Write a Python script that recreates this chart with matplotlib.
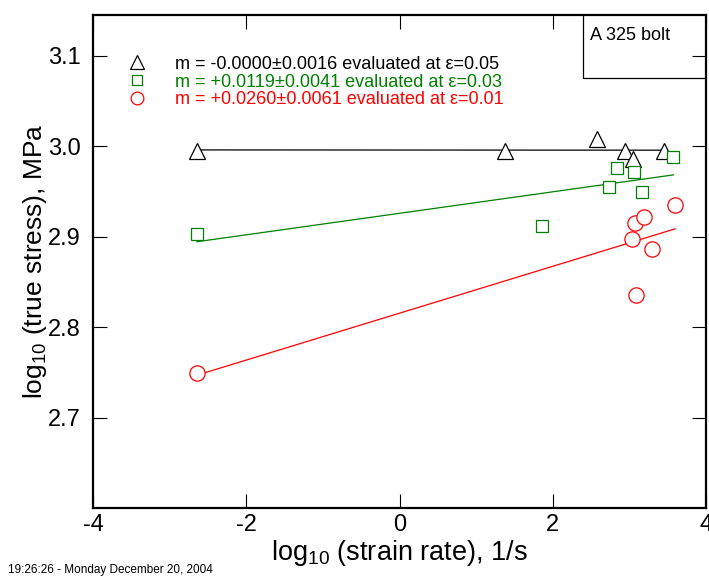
import numpy as np
import matplotlib
matplotlib.use('Agg')
import matplotlib.pyplot as plt
from matplotlib.patches import Rectangle

plt.rcParams['font.family'] = ['Liberation Sans', 'DejaVu Sans']
plt.rcParams['mathtext.fontset'] = 'custom'
plt.rcParams['mathtext.rm'] = 'Liberation Sans'
plt.rcParams['mathtext.default'] = 'regular'
plt.rcParams['axes.unicode_minus'] = False

# strain 0.05 (triangles)
x_tri = [-2.644, 1.372, 2.571, 2.949, 3.053, 3.458]
y_tri = [2.995, 2.995, 3.008, 2.995, 2.986, 2.995]
# strain 0.03 (squares)
x_sq = [-2.644, 1.858, 2.732, 2.840, 3.058, 3.171, 3.575]
y_sq = [2.903, 2.912, 2.955, 2.976, 2.971, 2.949, 2.988]
# strain 0.01 (circles)
x_ci = [-2.644, 3.032, 3.076, 3.089, 3.188, 3.300, 3.597]
y_ci = [2.749, 2.897, 2.915, 2.835, 2.922, 2.886, 2.935]

labels = ['m = -0.0000\u00b10.0016 evaluated at \u03b5=0.05',
          'm = +0.0119\u00b10.0041 evaluated at \u03b5=0.03',
          'm = +0.0260\u00b10.0061 evaluated at \u03b5=0.01']
colors = ['black', '#008000', '#ff0000']
markers = ['^', 's', 'o']
msizes = [12, 8, 11]

xticks = [-4, -2, 0, 2, 4]
yticks = [2.7, 2.8, 2.9, 3.0, 3.1]

fig = plt.figure(figsize=(7.09, 5.8), dpi=100)
ax = fig.add_axes([0.1312, 0.1241, 0.8646, 0.85])

series = [(x_tri, y_tri), (x_sq, y_sq), (x_ci, y_ci)]
handles = []
for (xs, ys), c, mk, ms, lab in zip(series, colors, markers, msizes, labels):
    xs = np.array(xs)
    ys = np.array(ys)
    m, b = np.polyfit(xs, ys, 1)
    xl = np.array([xs.min(), xs.max()])
    ax.plot(xl, m * xl + b, color=c, lw=0.9, zorder=2)
    h, = ax.plot(xs, ys, ls='none', marker=mk, ms=ms, mfc='white', mec=c,
                 mew=0.9, zorder=3, label=lab)
    handles.append(h)

leg = ax.legend(handles=handles, loc='upper left', bbox_to_anchor=(0.037, 0.936),
                frameon=False, fontsize=13, markerscale=0.83, handlelength=1.4,
                handletextpad=1.4, labelspacing=0.05, borderpad=0,
                labelcolor='markeredgecolor')

ax.add_patch(Rectangle((0.799, 0.872), 0.25, 0.2, transform=ax.transAxes,
                       fill=False, ec='black', lw=0.9, clip_on=True))
ax.text(0.811, 0.959, 'A 325 bolt', transform=ax.transAxes, fontsize=13,
        va='center', ha='left')

ax.set_xlim(-4, 4)
ax.set_ylim(2.6, 3.145)
ax.set_xticks(xticks)
ax.set_yticks(yticks)
ax.set_xticklabels([str(t) for t in xticks])
ax.set_yticklabels(['%.1f' % t for t in yticks])
ax.tick_params(direction='in', length=10, width=0.8, top=True, right=True,
               labelsize=17)
ax.tick_params(axis='x', pad=4)
ax.tick_params(axis='y', pad=9)
for s in ax.spines.values():
    s.set_linewidth(1.6)

ax.set_xlabel('log$_{10}$ (strain rate), 1/s', fontsize=19.5, labelpad=2)
ax.set_ylabel('log$_{10}$ (true stress), MPa', fontsize=19, labelpad=-1)

fig.text(8 / 709, 1 - 576 / 580, '19:26:26 - Monday December 20, 2004',
         fontsize=8.5, ha='left', va='bottom')

fig.savefig('out.png', dpi=100)
